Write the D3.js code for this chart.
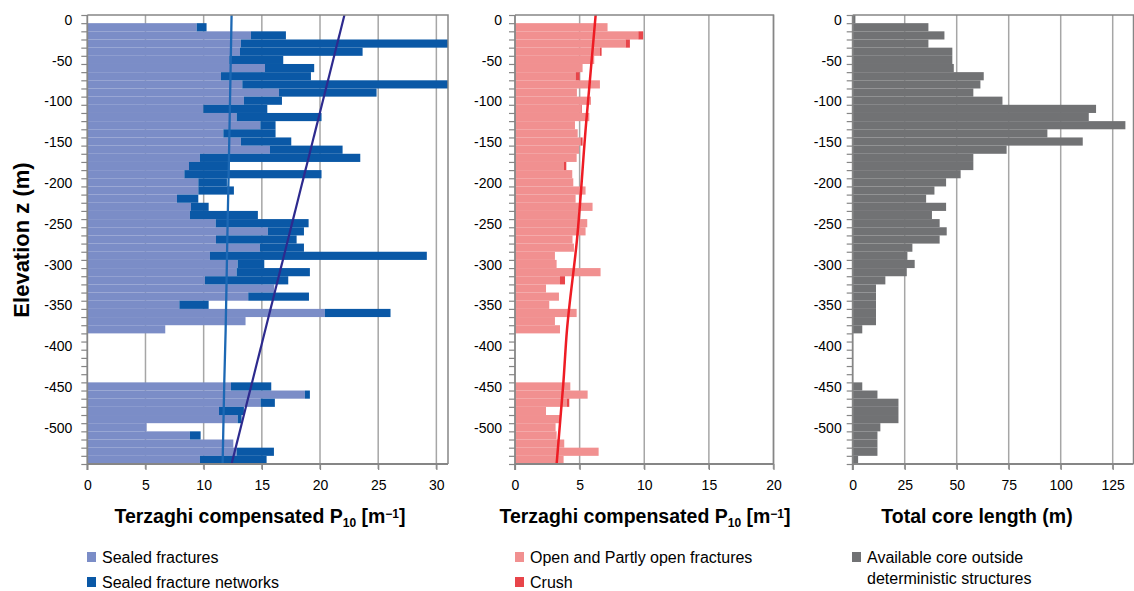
<!DOCTYPE html>
<html><head><meta charset="utf-8">
<script src="https://cdn.jsdelivr.net/npm/d3@7"></script>
<style>
body{margin:0;background:#fff;}
text{font-family:"Liberation Sans",Arial,sans-serif;}
</style></head>
<body>
<svg id="chart" width="1134" height="591"></svg>
<script>
// ---- data ----
const categories = [0,-10,-20,-30,-40,-50,-60,-70,-80,-90,-100,-110,-120,-130,-140,-150,-160,-170,-180,-190,-200,-210,-220,-230,-240,-250,-260,-270,-280,-290,-300,-310,-320,-330,-340,-350,-360,-370,-380,-390,-400,-410,-420,-430,-440,-450,-460,-470,-480,-490,-500,-510,-520,-530,-540];
const yTickLabels = [0,-50,-100,-150,-200,-250,-300,-350,-400,-450,-500];

const sealedFractures = [0,9.40,14.06,13.20,13.12,12.20,15.27,11.49,13.32,16.47,13.46,9.97,12.83,14.87,11.69,13.20,15.70,9.68,8.74,8.34,9.54,9.54,7.71,8.91,8.82,11.03,15.52,11.06,14.84,10.54,12.92,12.83,10.11,16.07,13.83,7.91,20.42,13.60,6.70,0,0,0,0,0,0,12.35,18.70,14.89,11.32,12.92,5.10,8.82,12.55,12.83,9.68];
const sealedNetworks = [0,0.85,3.01,18.30,10.54,4.64,4.23,7.73,18.20,8.39,3.27,5.50,7.30,1.31,4.49,4.33,6.24,13.78,3.49,11.79,2.46,3.06,1.83,1.52,5.84,7.99,3.10,6.93,3.78,18.64,2.29,6.30,7.16,0,5.22,2.52,5.64,0,0,0,0,0,0,0,0,3.46,0.43,1.23,2.14,0.34,0,0.92,0,3.21,5.73];

const openFractures = [0,7.16,9.54,8.56,6.57,6.13,5.23,4.69,6.57,4.79,5.88,5.10,5.75,4.64,4.85,5.08,4.95,4.77,3.79,4.43,4.51,5.46,4.69,6.00,4.90,5.59,5.46,4.45,4.56,3.09,3.22,6.62,3.48,2.40,3.40,2.65,4.77,3.09,3.48,0,0,0,0,0,0,4.28,5.62,4.00,2.40,3.48,3.14,3.22,3.81,6.47,3.76];
const crush = [0,0,0.38,0.33,0.13,0,0,0.31,0,0,0,0.06,0,0,0,0.15,0,0,0.18,0,0,0,0,0,0,0,0,0,0,0,0,0,0.39,0,0,0,0,0,0,0,0,0,0,0,0,0,0,0.20,0,0,0,0,0,0,0];

const coreLength = [1.3,36.4,44.1,36.4,47.9,47.9,48.6,63.0,61.4,58.0,72.0,117.0,113.5,131.1,93.6,110.6,74.0,58.0,58.0,51.9,44.9,39.3,35.3,44.9,38.1,41.8,45.2,41.8,28.7,26.3,29.8,26.0,15.7,11.2,11.2,11.2,11.2,11.2,4.6,0,0,0,0,0,0,4.6,11.9,22.0,22.0,22.0,13.3,11.9,11.9,11.9,2.6];

// trend lines (elevation, value)
const sealedTrendZ = [0,-178,-276,-386,-451,-550];
const sealedTrendV = [12.40,12.17,12.03,11.89,11.77,11.63];
const totalTrendZ = [0,-550];
const totalTrendV = [22.1,12.4];
const openTrendZ = [0,-135,-276,-386,-451,-550];
const openTrendV = [6.24,5.49,4.79,4.02,3.74,3.22];

const xTicks1 = [0,5,10,15,20,25,30];
const xTicks2 = [0,5,10,15,20];
const xTicks3 = [0,25,50,75,100,125];

// ---- drawing ----
const svg = d3.select("#chart");
const plotTop = 15, plotBottom = 464;
const yLin = d3.scaleLinear().domain([0,-550]).range([plotTop,plotBottom]);
const yBand = d3.scaleBand().domain(categories.map(String)).range([plotTop,plotBottom]).padding(0);
const GRID = "#a6a6a6", AXIS = "#868686";

function panel(id, x0, x1, domain, ticks, labelPad) {
  const x = d3.scaleLinear().domain(domain).range([x0,x1]);
  const g = svg.append("g");
  svg.append("clipPath").attr("id","clip"+id).append("rect")
    .attr("x",x0).attr("y",plotTop).attr("width",x1-x0).attr("height",plotBottom-plotTop);
  g.append("g").selectAll("line").data(ticks.filter(t=>t>0)).join("line")
    .attr("x1",d=>x(d)).attr("x2",d=>x(d)).attr("y1",plotTop).attr("y2",plotBottom+5)
    .attr("stroke",GRID).attr("stroke-width",1.5);
  const plot = g.append("g").attr("clip-path","url(#clip"+id+")");
  g.append("path").attr("d",`M${x0},${plotTop}H${x1}V${plotBottom}`).attr("fill","none").attr("stroke",AXIS).attr("stroke-width",1.5);
  return {x, g, plot, x0, x1, ticks, labelPad};
}

function axes(p) {
  const {x, g, x0, ticks, labelPad} = p;
  const minor = g.append("g").attr("transform",`translate(${x0},0)`)
    .call(d3.axisLeft(yLin).tickValues(categories.concat([-550])).tickSize(6).tickFormat(""));
  minor.select(".domain").remove();
  minor.selectAll("line").attr("stroke",AXIS).attr("stroke-width",1.2);
  const lab = g.append("g").attr("transform",`translate(${x0},0)`)
    .call(d3.axisLeft(yBand).tickValues(yTickLabels.map(String)).tickSize(0).tickPadding(labelPad));
  lab.select(".domain").remove();
  lab.selectAll("text").attr("font-size",14).attr("fill","#000").attr("dy","0.4em")
    .style("font-family","'Liberation Sans',Arial,sans-serif");
  g.append("line").attr("x1",x0).attr("x2",x0).attr("y1",plotTop).attr("y2",plotBottom+6)
    .attr("stroke",AXIS).attr("stroke-width",1.8);
  const xa = g.append("g").attr("transform",`translate(0,${plotBottom})`)
    .call(d3.axisBottom(x).tickValues(ticks).tickSize(6).tickPadding(10));
  xa.select(".domain").attr("stroke",AXIS).attr("stroke-width",1.8).attr("d",`M${x0},0H${p.x1}`);
  xa.selectAll("line").attr("stroke",AXIS).attr("stroke-width",1.2);
  xa.selectAll("text").attr("font-size",14).attr("fill","#000")
    .style("font-family","'Liberation Sans',Arial,sans-serif");
}

// Panel 1
const p1 = panel(1, 87.3, 448, [0,31], xTicks1, 15);
const rows1 = categories.map((c,i)=>({c:String(c), a:sealedFractures[i], b:sealedNetworks[i]}));
p1.plot.append("g").selectAll("rect").data(rows1.filter(d=>d.a>0)).join("rect")
  .attr("x",p1.x(0)).attr("y",d=>yBand(d.c)).attr("height",yBand.bandwidth())
  .attr("width",d=>p1.x(d.a)-p1.x(0)).attr("fill","#7b8dc7");
p1.plot.append("g").selectAll("rect").data(rows1.filter(d=>d.b>0)).join("rect")
  .attr("x",d=>p1.x(d.a)).attr("y",d=>yBand(d.c)).attr("height",yBand.bandwidth())
  .attr("width",d=>p1.x(d.a+d.b)-p1.x(d.a)).attr("fill","#0a58a6");
const lineGen1 = d3.line().x(d=>p1.x(d[1])).y(d=>yLin(d[0])).curve(d3.curveMonotoneY);
p1.plot.append("path").datum(sealedTrendZ.map((z,i)=>[z,sealedTrendV[i]]))
  .attr("d",lineGen1).attr("fill","none").attr("stroke","#1c68b4").attr("stroke-width",2.3);
p1.plot.append("path").datum(totalTrendZ.map((z,i)=>[z,totalTrendV[i]]))
  .attr("d",lineGen1).attr("fill","none").attr("stroke","#2d2a8e").attr("stroke-width",2.2);
axes(p1);

// Panel 2
const p2 = panel(2, 515, 773.5, [0,20], xTicks2, 13);
const rows2 = categories.map((c,i)=>({c:String(c), a:openFractures[i], b:crush[i]}));
p2.plot.append("g").selectAll("rect").data(rows2.filter(d=>d.a>0)).join("rect")
  .attr("x",p2.x(0)).attr("y",d=>yBand(d.c)).attr("height",yBand.bandwidth())
  .attr("width",d=>p2.x(d.a)-p2.x(0)).attr("fill","#f19090");
p2.plot.append("g").selectAll("rect").data(rows2.filter(d=>d.b>0)).join("rect")
  .attr("x",d=>p2.x(d.a)).attr("y",d=>yBand(d.c)).attr("height",yBand.bandwidth())
  .attr("width",d=>p2.x(d.a+d.b)-p2.x(d.a)).attr("fill","#e8454a");
const lineGen2 = d3.line().x(d=>p2.x(d[1])).y(d=>yLin(d[0])).curve(d3.curveMonotoneY);
p2.plot.append("path").datum(openTrendZ.map((z,i)=>[z,openTrendV[i]]))
  .attr("d",lineGen2).attr("fill","none").attr("stroke","#ee1c24").attr("stroke-width",2.5);
axes(p2);

// Panel 3
const p3 = panel(3, 852.7, 1133.5, [0,135], xTicks3, 11);
const rows3 = categories.map((c,i)=>({c:String(c), v:coreLength[i]}));
p3.plot.append("g").selectAll("rect").data(rows3.filter(d=>d.v>0)).join("rect")
  .attr("x",p3.x(0)).attr("y",d=>yBand(d.c)).attr("height",yBand.bandwidth())
  .attr("width",d=>p3.x(d.v)-p3.x(0)).attr("fill","#717274");
axes(p3);

// Axis titles
function p10Title(cx) {
  const t = svg.append("text").attr("x",cx).attr("y",523).attr("text-anchor","middle")
    .attr("font-size",19.5).attr("font-weight","bold").attr("fill","#000");
  t.append("tspan").text("Terzaghi compensated P");
  t.append("tspan").attr("font-size",12).attr("dy",4).text("10");
  t.append("tspan").attr("dy",-4).text(" [m");
  t.append("tspan").attr("font-size",12).attr("dy",-5).text("−1");
  t.append("tspan").attr("dy",5).text("]");
}
p10Title(260);
p10Title(645);
svg.append("text").attr("x",977).attr("y",523).attr("text-anchor","middle")
  .attr("font-size",19.5).attr("font-weight","bold").attr("fill","#000").text("Total core length (m)");
svg.append("text").attr("transform","translate(29,240) rotate(-90)").attr("text-anchor","middle")
  .attr("font-size",22).attr("font-weight","bold").attr("fill","#000").text("Elevation z (m)");

// Legend
const legendNames = ["Sealed fractures","Sealed fracture networks","Open and Partly open fractures","Crush","Available core outside"];
const legendColors = ["#7b8dc7","#0a58a6","#f19090","#e8454a","#717274"];
const legendX = [87,87,515,515,852];
const legendY = [557,582,557,582,557];
const lg = svg.append("g").selectAll("g").data(legendNames).join("g")
  .attr("transform",(d,i)=>`translate(${legendX[i]},${legendY[i]})`);
lg.append("rect").attr("x",0).attr("y",-5).attr("width",9).attr("height",10).attr("fill",(d,i)=>legendColors[i]);
lg.append("text").attr("x",15).attr("y",0).attr("dy","0.36em").attr("font-size",16).attr("fill","#000").text(d=>d);
svg.append("text").attr("x",867).attr("y",578).attr("dy","0.36em").attr("font-size",16).attr("fill","#000").text("deterministic structures");
</script>
</body></html>
